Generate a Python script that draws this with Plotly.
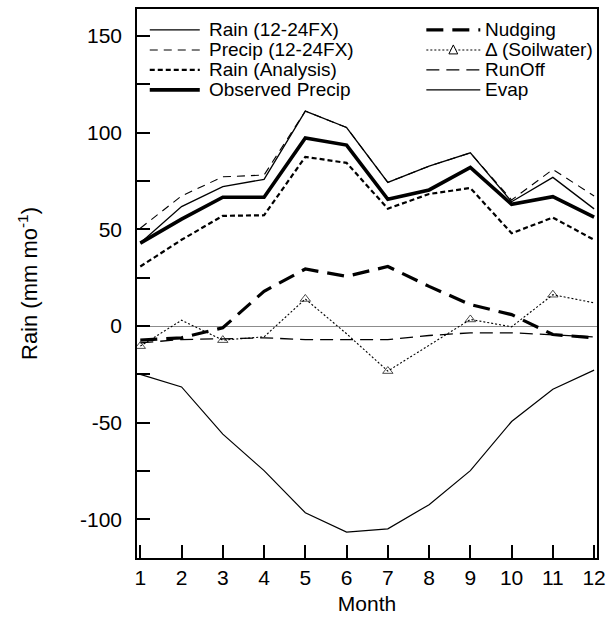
import plotly.graph_objects as go

# ---------------- data ----------------
months = list(range(1, 13))
month_labels = [str(m) for m in months]

rain_fx = [42.9, 61.8, 72.1, 75.9, 111.2, 102.7, 74.3, 82.7, 89.6, 64.3, 76.9, 60.6]
precip_fx = [50.6, 67.3, 77.2, 78.1, 111.2, 102.7, 74.3, 82.7, 89.6, 65.2, 81.0, 67.3]
rain_analysis = [30.8, 44.6, 57.0, 57.3, 87.5, 84.4, 60.7, 68.3, 71.4, 48.0, 56.1, 44.6]
observed_precip = [42.9, 55.3, 66.6, 66.6, 97.3, 93.6, 65.6, 70.4, 82.1, 63.0, 66.9, 56.3]
nudging = [-7.3, -6.1, -0.9, 18.0, 29.5, 25.7, 30.8, 20.5, 11.1, 5.9, -4.4, -6.1]
soilwater = [-10.4, 3.0, -7.3, -5.6, 14.0, -4.0, -23.3, -10.0, 3.4, -0.4, 16.2, 12.0]
runoff = [-8.7, -7.0, -6.6, -6.1, -7.0, -7.0, -7.0, -4.9, -3.5, -3.5, -4.4, -5.6]
evap = [-25.0, -31.5, -55.9, -74.8, -96.6, -106.6, -104.9, -92.4, -74.8, -49.4, -32.7, -22.8]

y_tick_vals = [-100, -50, 0, 50, 100, 150]
y_tick_text = ["-100", "-50", "0", "50", "100", "150"]

# ---------------- figure geometry ----------------
W, H = 613, 624
L, R, T, B = 137, 7, 8, 66
PW, PH = W - L - R, H - T - B
FONT = "Arial, Liberation Sans, Helvetica, sans-serif"


def px(x):
    return (x - L) / PW


def py(y):
    return (H - B - y) / PH


series = [
    ("Rain (12-24FX)", rain_fx, dict(width=1.3, dash="solid"), None),
    ("Precip (12-24FX)", precip_fx, dict(width=1.1, dash="8px,6px"), None),
    ("Rain (Analysis)", rain_analysis, dict(width=2.2, dash="5px,3px"), None),
    ("Observed Precip", observed_precip, dict(width=3.6, dash="solid"), None),
    ("Nudging", nudging, dict(width=3.2, dash="17px,9px"), None),
    ("\u0394 (Soilwater)", soilwater, dict(width=1.1, dash="2px,2px"), "tri"),
    ("RunOff", runoff, dict(width=1.3, dash="13px,7px"), None),
    ("Evap", evap, dict(width=1.2, dash="solid"), None),
]

fig = go.Figure()
for name, vals, ln, mk in series:
    kw = {}
    if mk == "tri":
        kw["mode"] = "lines+markers"
        kw["marker"] = dict(
            symbol="triangle-up-open",
            size=[9 if m % 2 == 1 else 0 for m in months],
            color="black",
            line=dict(width=1, color="black"),
        )
    else:
        kw["mode"] = "lines"
    fig.add_trace(
        go.Scatter(
            x=months,
            y=vals,
            name=name,
            line=dict(color="black", **ln),
            showlegend=False,
            **kw,
        )
    )

# ---------------- manual legend ----------------
shapes = []
annotations = []
rows_y = [29, 49, 69, 89]
cols = [(150, 201, 208), (432, 487, 490)]
for i, (name, vals, ln, mk) in enumerate(series):
    col = cols[i // 4]
    ry = rows_y[i % 4]
    shapes.append(
        dict(
            type="line",
            xref="paper",
            yref="paper",
            x0=px(col[0]),
            x1=px(col[1]),
            y0=py(ry),
            y1=py(ry),
            line=dict(color="black", width=ln["width"], dash=ln["dash"]),
        )
    )
    if mk == "tri":
        cx = (col[0] + col[1]) / 2
        path = "M {:.5f},{:.5f} L {:.5f},{:.5f} L {:.5f},{:.5f} Z".format(
            px(cx - 4.5), py(ry + 4), px(cx + 4.5), py(ry + 4), px(cx), py(ry - 5)
        )
        shapes.append(
            dict(
                type="path",
                xref="paper",
                yref="paper",
                path=path,
                fillcolor="white",
                line=dict(color="black", width=1),
            )
        )
    annotations.append(
        dict(
            x=px(col[2]),
            y=py(ry),
            xref="paper",
            yref="paper",
            text=name,
            xanchor="left",
            yanchor="middle",
            showarrow=False,
            font=dict(family=FONT, size=19, color="black"),
        )
    )

fig.update_layout(
    width=W,
    height=H,
    margin=dict(l=L, r=R, t=T, b=B, pad=0),
    paper_bgcolor="white",
    plot_bgcolor="white",
    font=dict(family=FONT, color="black"),
    showlegend=False,
    shapes=shapes,
    annotations=annotations,
    xaxis=dict(
        range=[0.92, 12.07],
        tickvals=months,
        ticktext=month_labels,
        ticks="inside",
        ticklen=13,
        tickwidth=1.5,
        tickcolor="black",
        showline=True,
        linecolor="black",
        linewidth=1.5,
        mirror=True,
        showgrid=False,
        zeroline=False,
        tickfont=dict(size=21, family=FONT),
        title=dict(text="Month", font=dict(size=21, family=FONT), standoff=8),
    ),
    yaxis=dict(
        range=[-120, 164],
        tickvals=y_tick_vals,
        ticktext=y_tick_text,
        ticks="inside",
        ticklen=13,
        tickwidth=1.5,
        tickcolor="black",
        ticklabelstandoff=9,
        minor=dict(dtick=25, tick0=0, ticks="inside", ticklen=13, tickwidth=1.5, tickcolor="black"),
        showline=True,
        linecolor="black",
        linewidth=1.5,
        mirror=True,
        showgrid=False,
        zeroline=True,
        zerolinecolor="#8c8c8c",
        zerolinewidth=1,
        tickfont=dict(size=21, family=FONT),
        title=dict(text="Rain (mm mo<sup>-1</sup>)", font=dict(size=22, family=FONT), standoff=36),
    ),
)

fig.write_html("out.html")
